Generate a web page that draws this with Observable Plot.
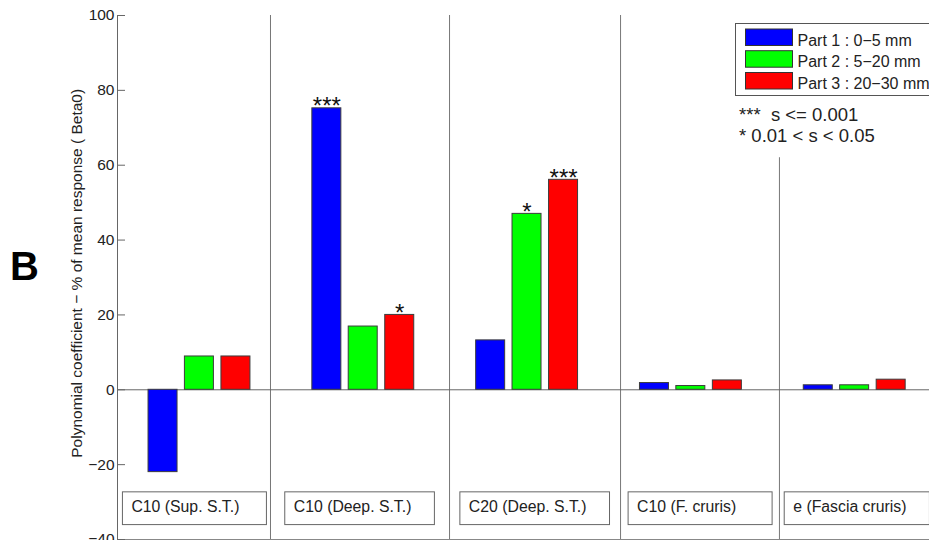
<!DOCTYPE html>
<html>
<head>
<meta charset="utf-8">
<script src="https://cdn.jsdelivr.net/npm/d3@7"></script>
<script src="https://cdn.jsdelivr.net/npm/@observablehq/plot@0.6"></script>
<style>
  html, body { margin: 0; padding: 0; background: #fff; overflow: hidden; }
  #wrap { position: relative; width: 929px; height: 540px; overflow: hidden; }
  #wrap svg { display: block; }
  #overlay { position: absolute; left: 0; top: 0; pointer-events: none; }
  text { font-family: "Liberation Sans", Arial, Helvetica, sans-serif; }
</style>
</head>
<body>
<div id="wrap"></div>
<script>
// ---- data ----
const categories = ["C10 (Sup. S.T.)", "C10 (Deep. S.T.)", "C20 (Deep. S.T.)", "C10 (F. cruris)", "e (Fascia cruris)"];
const part1 = [-22.0, 75.2, 13.2, 1.8, 1.2];
const part2 = [8.9, 16.9, 47.0, 1.0, 1.2];
const part3 = [8.9, 20.0, 56.1, 2.5, 2.7];
const stars1 = ["", "***", "", "", ""];
const stars2 = ["", "", "*", "", ""];
const stars3 = ["", "*", "***", "", ""];
const seriesNames = ["Part 1 : 0\u22125 mm", "Part 2 : 5\u221220 mm", "Part 3 : 20\u221230 mm"];
const seriesColors = ["#0000ff", "#00ff00", "#ff0000"];
const yTicks = [-40, -20, 0, 20, 40, 60, 80, 100];
const separatorX = [1.434, 2.527, 3.571, 4.541];
const separatorTop = [100, 100, 100, 62];
const labelAt = [0.585, 1.576, 2.645, 3.672, 4.625];
const sigLines = ["***\u00a0\u00a0s <= 0.001", "* 0.01 < s < 0.05"];
const yLabel = "Polynomial coefficient \u2212 % of mean response ( Beta0)";
const panelLetter = "B";

// ---- layout ----
const W = 929, H = 556, ML = 117, MR = 0, MT = 15, MB = 17;
const xDom = [0.5, 5.457];
const kx = (W - ML - MR) / (xDom[1] - xDom[0]);
const offsets = [-0.222, 0, 0.223];
const hw = 14.5 / kx;
const FONT = '"Liberation Sans", Arial, Helvetica, sans-serif';
const FS = 15.5;
const LFS = 15.8;

const ctx = document.createElement("canvas").getContext("2d");
ctx.font = `${LFS}px ${FONT}`;
const textW = categories.map(c => ctx.measureText(c).width);
const boxW = textW.map(w => Math.max(w + 32, 144));

const parts = [part1, part2, part3];
const starsAll = [stars1, stars2, stars3];

const barMarks = parts.map((vals, p) =>
  Plot.rectY(categories, {
    x1: (d, i) => i + 1 + offsets[p] - hw,
    x2: (d, i) => i + 1 + offsets[p] + hw,
    y1: 0,
    y2: (d, i) => vals[i],
    fill: seriesColors[p],
    stroke: "#3c3c3c",
    strokeWidth: 1
  })
);
const starMarks = starsAll.map((st, p) =>
  Plot.text(categories, {
    x: (d, i) => i + 1 + offsets[p],
    y: (d, i) => parts[p][i],
    text: (d, i) => st[i],
    lineAnchor: "bottom",
    dy: 6,
    fontSize: 24,
    fill: "#111"
  })
);

const chart = Plot.plot({
  width: W, height: H,
  marginLeft: ML, marginRight: MR, marginTop: MT, marginBottom: MB,
  x: {domain: xDom, axis: null},
  y: {domain: [-40, 100]},
  style: {fontFamily: FONT, fontSize: FS + "px", color: "#222", background: "white"},
  marks: [
    Plot.ruleX(separatorX, {x: d => d, y1: -40, y2: (d, i) => separatorTop[i], stroke: "#777", strokeWidth: 1}),
    Plot.ruleY([0], {stroke: "#666", strokeWidth: 1}),
    Plot.ruleY([-40], {stroke: "#888", strokeWidth: 1}),
    ...barMarks,
    ...starMarks,
    Plot.rect(categories, {
      x1: (d, i) => labelAt[i] - 8.5 / kx,
      x2: (d, i) => labelAt[i] + (boxW[i] - 8.5) / kx,
      y1: -27.4, y2: -36.15,
      fill: "white", stroke: "#666", strokeWidth: 1
    }),
    Plot.text(categories, {
      x: (d, i) => labelAt[i], y: -32.7, text: d => d,
      textAnchor: "start", lineAnchor: "bottom", fontSize: LFS, fill: "#222"
    }),
    Plot.ruleX([0.5], {y1: -40, y2: 100, stroke: "#666", strokeWidth: 1}),
    Plot.ruleY(yTicks, {y: d => d, x1: 0.5, x2: 0.5 + 8 / kx, stroke: "#666", strokeWidth: 1}),
    Plot.axisY({ticks: yTicks, tickSize: 0, tickPadding: 3, label: null, fontSize: FS, fill: "#222"})
  ]
});
const wrap = document.getElementById("wrap");
wrap.appendChild(chart);

// ---- overlay: panel letter, y label, legend, significance key ----
const ov = d3.select(wrap).append("svg")
  .attr("id", "overlay").attr("width", 929).attr("height", 540);

ov.append("text").attr("x", 10).attr("y", 279.5)
  .attr("font-size", 40).attr("font-weight", "bold").attr("fill", "#000").text(panelLetter);

ov.append("text").attr("transform", "translate(81.5,273.3) rotate(-90)")
  .attr("text-anchor", "middle").attr("font-size", FS).attr("fill", "#222").text(yLabel);

const lg = ov.append("g");
lg.append("rect").attr("x", 735.5).attr("y", 23.5).attr("width", 220).attr("height", 72)
  .attr("fill", "white").attr("stroke", "#555").attr("stroke-width", 1);
const swY = [29, 50.7, 72.5];
seriesNames.forEach((name, i) => {
  lg.append("rect").attr("x", 745.5).attr("y", swY[i]).attr("width", 47).attr("height", 16.5)
    .attr("fill", seriesColors[i]).attr("stroke", "#333").attr("stroke-width", 1);
  lg.append("text").attr("x", 797.5).attr("y", swY[i] + 16.5)
    .attr("font-size", 16).attr("fill", "#222").text(name);
});
const sigY = [121, 142];
sigLines.forEach((s, i) => {
  ov.append("text").attr("x", 739).attr("y", sigY[i])
    .attr("font-size", 18.5).attr("fill", "#222").text(s);
});
</script>
</body>
</html>
